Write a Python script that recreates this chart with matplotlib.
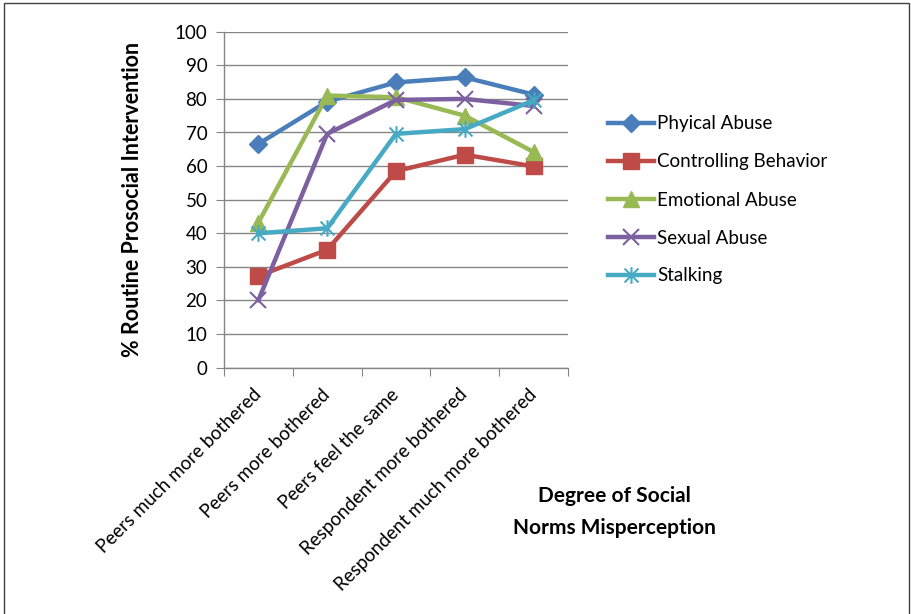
import matplotlib
matplotlib.use("Agg")
import matplotlib.pyplot as plt
from matplotlib.path import Path
from matplotlib.patches import Rectangle
from matplotlib.transforms import ScaledTranslation

categories = ["Peers much more bothered", "Peers more bothered", "Peers feel the same",
              "Respondent more bothered", "Respondent much more bothered"]
series_names = ["Phyical Abuse", "Controlling Behavior", "Emotional Abuse", "Sexual Abuse", "Stalking"]
physical = [66.6, 79.2, 84.9, 86.4, 81.3]
controlling = [27.3, 35.1, 58.5, 63.4, 59.9]
emotional = [43.2, 81.0, 80.5, 75.0, 64.2]
sexual = [20.1, 69.6, 79.7, 80.0, 77.9]
stalking = [40.0, 41.5, 69.6, 71.0, 79.6]
yticks = [0, 10, 20, 30, 40, 50, 60, 70, 80, 90, 100]

colors = ["#4A7EBB", "#BE4B48", "#98B954", "#7D60A0", "#46AAC5"]

asterisk = Path([(-1, -1), (1, 1), (-1, 1), (1, -1), (0, -1.2), (0, 1.2)],
                [Path.MOVETO, Path.LINETO, Path.MOVETO, Path.LINETO, Path.MOVETO, Path.LINETO])
markers = ["D", "s", "^", "x", asterisk]
msizes = [9, 11, 11, 11, 12]

plt.rcParams['font.family'] = ['Lato', 'DejaVu Sans']

W, H = 911, 614
fig = plt.figure(figsize=(W / 100, H / 100), dpi=100)
ax = fig.add_axes([224 / W, 1 - 367.7 / H, (568 - 224) / W, (367.7 - 31.7) / H])

x = list(range(len(categories)))
data = [physical, controlling, emotional, sexual, stalking]
for vals, name, c, m, ms in zip(data, series_names, colors, markers, msizes):
    mew = 1.5 if (m == "x" or m is asterisk) else 1
    ax.plot(x, vals, color=c, lw=3.2, marker=m, markersize=ms, markerfacecolor=c,
            markeredgecolor=c, markeredgewidth=mew, label=name, zorder=3)

ax.set_xlim(-0.5, len(categories) - 0.5)
ax.set_ylim(0, 100)
ax.set_yticks(yticks)
ax.set_yticklabels([str(v) for v in yticks], fontsize=13.5)
ax.yaxis.grid(True, color="#868686", lw=1)
ax.set_axisbelow(True)
for s in ["top", "right"]:
    ax.spines[s].set_visible(False)
for s in ["left", "bottom"]:
    ax.spines[s].set_color("#868686")
    ax.spines[s].set_linewidth(1)
ax.tick_params(axis="y", length=6, color="#868686", pad=6)

# category boundary ticks
ax.set_xticks([i - 0.5 for i in range(len(categories) + 1)], minor=False)
ax.set_xticklabels([])
ax.tick_params(axis="x", which="major", length=6, color="#868686", direction="out")
ax.set_xticks(x, minor=True)
ax.set_xticklabels(categories, minor=True, rotation=45, ha="right", va="top",
                   rotation_mode="anchor", fontsize=13.5)
ax.tick_params(axis="x", which="minor", length=0, pad=13)
off = ScaledTranslation(-6 / 100, 0, fig.dpi_scale_trans)
for lbl in ax.get_xticklabels(minor=True):
    lbl.set_transform(lbl.get_transform() + off)

ax.set_ylabel("% Routine Prosocial Intervention", fontsize=15.5, fontweight="bold", labelpad=23)

fig.text(614 / W, 1 - 512 / H, "Degree of Social\nNorms Misperception", ha="center", va="center",
         fontsize=15, fontweight="bold", linespacing=1.75)

leg = ax.legend(loc="upper left", bbox_to_anchor=(600 / W, 1 - 108 / H), bbox_transform=fig.transFigure,
                frameon=False, fontsize=13.5, handlelength=2.5, labelspacing=1.12, handletextpad=0.15,
                borderaxespad=0)

fig.patches.append(Rectangle((4 / W, -0.1), (909 - 4) / W, 1.1 - 3.5 / H, transform=fig.transFigure,
                             fill=False, edgecolor="#404040", lw=1))

fig.savefig("out.png", dpi=100)
